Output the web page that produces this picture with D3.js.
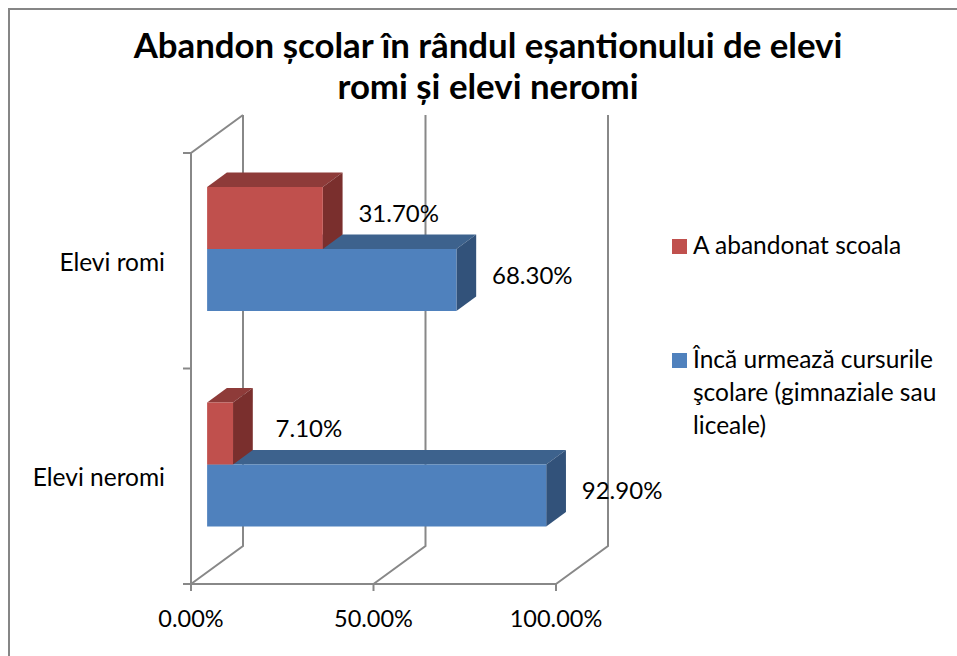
<!DOCTYPE html>
<html>
<head>
<meta charset="utf-8">
<script src="https://cdn.jsdelivr.net/npm/d3@7"></script>
<style>
  body { margin: 0; background: #fff; }
  text { font-family: Lato, "Open Sans", sans-serif; fill: #000; }
</style>
</head>
<body>
<script>
// chart data
var categories = ["Elevi romi", "Elevi neromi"];
var seriesNames = ["A abandonat scoala", "Încă urmează cursurile şcolare (gimnaziale sau liceale)"];
var abandoned = [0.317, 0.071];
var stillInSchool = [0.683, 0.929];
var xTicks = [0, 0.5, 1];
var titleLines = ["Abandon școlar în rândul eșantionului de elevi", "romi și elevi neromi"];
var legendLines = [["A abandonat scoala"], ["Încă urmează cursurile", "şcolare (gimnaziale sau", "liceale)"]];

var width = 957, height = 656;
var gridColor = "#888888";
// front, top, side shades for each series
var shades = [
    {front: "#C0504D", top: "#8E3B39", side: "#7A2F2D"},
    {front: "#4F81BD", top: "#3D628D", side: "#32527A"}
];

// 3d depth offset of the wall
var depthX = 52, depthY = -38;
var barFrontZ = 0.31, barBackZ = 0.69;

var svg = d3.select("body").append("svg")
    .attr("width", width)
    .attr("height", height);

svg.append("rect")
    .attr("x", 9).attr("y", 9)
    .attr("width", 960).attr("height", 660)
    .attr("fill", "#fff")
    .attr("stroke", "#868686")
    .attr("stroke-width", 2);

var x = d3.scaleLinear().domain([0, 1]).range([191, 556]);
var y = d3.scaleBand().domain(categories).range([153, 584]);
var ySub = d3.scaleBand().domain([0, 1]).range([0, y.bandwidth()]).paddingOuter(0.738);

function proj(px, py, z) {
    return [px + depthX * z, py + depthY * z];
}

// walls and gridlines
var grid = svg.append("g").attr("stroke", gridColor).attr("stroke-width", 2).attr("fill", "none");
var yTop = y.range()[0], yBot = y.range()[1];

xTicks.forEach(function (t) {
    var b0 = proj(x(t), yBot, 0), b1 = proj(x(t), yBot, 1), t1 = proj(x(t), yTop, 1);
    grid.append("path").attr("d", d3.line()([b0, b1, t1]));
});
// left wall
var lw = [proj(x(0), yBot, 0), proj(x(0), yTop, 0), proj(x(0), yTop, 1)];
grid.append("path").attr("d", d3.line()(lw));
// front floor edge
grid.append("line")
    .attr("x1", x(0)).attr("x2", x(1))
    .attr("y1", yBot).attr("y2", yBot);

// ticks
var yTickVals = [yTop, y(categories[1]), yBot];
yTickVals.forEach(function (v) {
    grid.append("line").attr("x1", x(0) - 8).attr("x2", x(0)).attr("y1", v).attr("y2", v);
});
xTicks.forEach(function (t) {
    grid.append("line").attr("x1", x(t)).attr("x2", x(t)).attr("y1", yBot).attr("y2", yBot + 7);
});

// bars: draw the lower one (blue) first so the red bar sits on top of it
function drawBar(g, cat, s, v) {
    var c = shades[s];
    var y0 = y(cat) + ySub(s), y1 = y0 + ySub.bandwidth();
    var x0 = x(0), x1 = x(v);
    var fTL = proj(x0, y0, barFrontZ), fTR = proj(x1, y0, barFrontZ),
        fBR = proj(x1, y1, barFrontZ), fBL = proj(x0, y1, barFrontZ);
    var bTL = proj(x0, y0, barBackZ), bTR = proj(x1, y0, barBackZ), bBR = proj(x1, y1, barBackZ);
    g.append("path").attr("d", d3.line()([fTL, bTL, bTR, fTR]) + "Z").attr("fill", c.top);
    g.append("path").attr("d", d3.line()([fTR, bTR, bBR, fBR]) + "Z").attr("fill", c.side);
    g.append("path").attr("d", d3.line()([fTL, fTR, fBR, fBL]) + "Z").attr("fill", c.front);
}

var bars = svg.append("g").attr("class", "bars");
var labels = svg.append("g").attr("class", "labels");
var seriesValues = [abandoned, stillInSchool];

categories.forEach(function (cat, i) {
    [1, 0].forEach(function (s) {
        var v = seriesValues[s][i];
        drawBar(bars, cat, s, v);
        var cy = y(cat) + ySub(s) + ySub.bandwidth() / 2 + depthY * barFrontZ;
        labels.append("text")
            .attr("x", x(v) + 92)
            .attr("y", cy + 4)
            .attr("text-anchor", "middle")
            .style("font-size", "24px")
            .text(d3.format(".2%")(v));
    });
});

// category labels
categories.forEach(function (cat) {
    svg.append("text")
        .attr("x", 165)
        .attr("y", y(cat) + y.bandwidth() / 2 + 10)
        .attr("text-anchor", "end")
        .style("font-size", "24.5px")
        .text(cat);
});

// x tick labels
xTicks.forEach(function (t) {
    svg.append("text")
        .attr("x", x(t))
        .attr("y", 627)
        .attr("text-anchor", "middle")
        .style("font-size", "23.5px")
        .text(d3.format(".2%")(t));
});

// title
titleLines.forEach(function (line, i) {
    svg.append("text")
        .attr("x", 488)
        .attr("y", 58 + i * 41)
        .attr("text-anchor", "middle")
        .style("font-size", "34.8px")
        .style("font-weight", "bold")
        .text(line);
});

// legend
var legendY = [239, 353];
legendLines.forEach(function (lines, s) {
    svg.append("rect")
        .attr("x", 672).attr("y", legendY[s])
        .attr("width", 15).attr("height", 15)
        .attr("fill", shades[s].front);
    lines.forEach(function (ln, k) {
        svg.append("text")
            .attr("x", 693)
            .attr("y", legendY[s] + 15 + k * 33)
            .style("font-size", "24.5px")
            .text(ln);
    });
});
</script>
</body>
</html>
